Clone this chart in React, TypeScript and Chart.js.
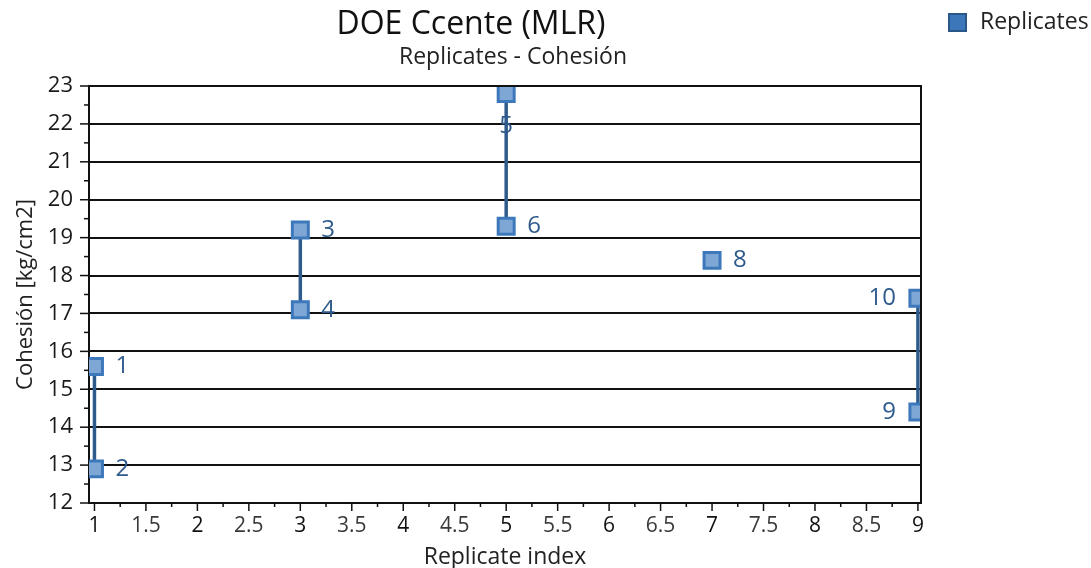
import React, { useEffect, useRef } from "react";
import { Chart, registerables } from "chart.js";

Chart.register(...registerables);

const replicateIds = [1, 2, 3, 4, 5, 6, 8, 9, 10];
const replicateIndex = [1, 1, 3, 3, 5, 5, 7, 9, 9];
const cohesion = [15.6, 12.9, 19.2, 17.1, 22.8, 19.3, 18.4, 14.4, 17.4];
const labelSide = ["right", "right", "right", "right", "below", "right", "right", "left", "left"];

const xTickStart = 1;
const xTickEnd = 9;
const xTickStep = 0.25;

const TITLE = "DOE Ccente (MLR)";
const SUBTITLE = "Replicates - Cohesión";
const SERIES_NAME = "Replicates";
const X_TITLE = "Replicate index";
const Y_TITLE = "Cohesión [kg/cm2]";

const FONT = "'Open Sans', 'Noto Sans', sans-serif";
const LABEL_COLOR = "#2E5A8C";

const pointData = replicateIndex.map((x, i) => ({ x, y: cohesion[i] }));
const lineData: { x: number; y: number | null }[] = [];
replicateIndex.forEach((x, i) => {
  if (i > 0 && replicateIndex[i - 1] !== x) {
    lineData.push({ x: (replicateIndex[i - 1] + x) / 2, y: null });
  }
  lineData.push({ x, y: cohesion[i] });
});

const isHalf = (v: number) => Math.abs(v * 2 - Math.round(v * 2)) < 1e-6;
const isInt = (v: number) => Math.abs(v - Math.round(v)) < 1e-6;

const decoPlugin = {
  id: "deco",
  afterDraw(chart: any) {
    const { ctx, chartArea } = chart;
    const xs = chart.scales.x;
    const ys = chart.scales.y;
    ctx.save();
    ctx.strokeStyle = "#111";
    ctx.lineWidth = 2;
    ctx.beginPath();
    ctx.moveTo(chartArea.left, chartArea.top);
    ctx.lineTo(chartArea.right, chartArea.top);
    ctx.lineTo(chartArea.right, chartArea.bottom);
    ctx.stroke();
    ctx.lineWidth = 1.5;
    ys.ticks.forEach((t: any) => {
      const y = ys.getPixelForValue(t.value);
      const len = Number.isInteger(t.value) ? 9 : 5;
      ctx.beginPath();
      ctx.moveTo(chartArea.left - len, y);
      ctx.lineTo(chartArea.left, y);
      ctx.stroke();
    });
    xs.ticks.forEach((t: any) => {
      const x = xs.getPixelForValue(t.value);
      const len = isHalf(t.value) ? 8 : 4;
      ctx.beginPath();
      ctx.moveTo(x, chartArea.bottom);
      ctx.lineTo(x, chartArea.bottom + len);
      ctx.stroke();
    });
    const meta = chart.getDatasetMeta(0);
    ctx.font = `24px ${FONT}`;
    ctx.fillStyle = LABEL_COLOR;
    ctx.textBaseline = "middle";
    meta.data.forEach((el: any, i: number) => {
      const side = labelSide[i];
      const txt = String(replicateIds[i]);
      if (side === "right") {
        ctx.textAlign = "left";
        ctx.fillText(txt, el.x + 21, el.y);
      } else if (side === "left") {
        ctx.textAlign = "right";
        ctx.fillText(txt, el.x - 22, el.y);
      } else {
        ctx.textAlign = "center";
        ctx.fillText(txt, el.x, el.y + 33);
      }
    });
    ctx.fillStyle = "#111";
    ctx.textAlign = "center";
    ctx.font = `32px ${FONT}`;
    ctx.fillText(TITLE, 471, 25);
    ctx.font = `23px ${FONT}`;
    ctx.fillStyle = "#222";
    ctx.fillText(SUBTITLE, 513, 57);
    ctx.fillStyle = "#3C77B9";
    ctx.fillRect(949, 14, 17, 17);
    ctx.strokeStyle = "#2A578A";
    ctx.lineWidth = 2;
    ctx.strokeRect(949, 14, 17, 17);
    ctx.fillStyle = "#222";
    ctx.textAlign = "left";
    ctx.font = `23px ${FONT}`;
    ctx.fillText(SERIES_NAME, 980, 22);
    ctx.restore();
  },
};

export default function App() {
  const ref = useRef<HTMLCanvasElement | null>(null);
  useEffect(() => {
    document.body.style.margin = "0";
    if (!ref.current) return;
    const chart = new Chart(ref.current, {
      type: "line",
      data: {
        datasets: [
          {
            label: SERIES_NAME,
            data: pointData,
            showLine: false,
            pointStyle: "rect",
            pointRadius: 11.3,
            pointHoverRadius: 11.3,
            pointBackgroundColor: "#7FA7D6",
            pointBorderColor: "#3D78BA",
            pointBorderWidth: 3,
            borderColor: "#3D78BA",
            backgroundColor: "#7FA7D6",
            order: 0,
            clip: 0,
          } as any,
          {
            label: "pairs",
            data: lineData,
            borderColor: "#2F5B8C",
            borderWidth: 3.5,
            pointRadius: 0,
            spanGaps: false,
            order: 1,
            clip: 0,
          } as any,
        ],
      },
      options: {
        responsive: false,
        animation: false,
        layout: { padding: { top: 86, right: 170, left: 0, bottom: 0 } },
        plugins: {
          legend: { display: false },
          title: { display: false },
          tooltip: { enabled: false },
        },
        events: [],
        scales: {
          x: {
            type: "linear",
            min: 0.947,
            max: 9.03,
            afterBuildTicks: (scale: any) => {
              const ticks: any[] = [];
              for (let v = xTickStart; v <= xTickEnd + 1e-9; v += xTickStep) ticks.push({ value: v });
              scale.ticks = ticks;
            },
            afterFit: (scale: any) => {
              scale.height = 65;
            },
            ticks: {
              autoSkip: false,
              maxRotation: 0,
              padding: 10,
              color: (c: any) => (c.tick && isInt(c.tick.value) ? "#111" : "#3a3a3a"),
              font: { family: FONT, size: 21 },
              callback: (v: any) => (isHalf(v) ? String(Math.round(v * 2) / 2) : ""),
            },
            grid: { drawOnChartArea: false, drawTicks: false, tickLength: 0 },
            border: { display: true, color: "#111", width: 2 },
            title: {
              display: true,
              text: X_TITLE,
              color: "#222",
              font: { family: FONT, size: 23, lineHeight: 1.0 },
              padding: { top: 0, bottom: -1 },
            },
          },
          y: {
            type: "linear",
            min: 12,
            max: 23,
            afterFit: (scale: any) => {
              scale.width = 89;
            },
            ticks: {
              stepSize: 0.5,
              autoSkip: false,
              padding: 16,
              color: "#1a1a1a",
              font: { family: FONT, size: 22 },
              callback: (v: any) => (Number.isInteger(v) ? String(v) : ""),
            },
            grid: {
              drawTicks: false,
              tickLength: 0,
              lineWidth: 2,
              color: (c: any) =>
                c.tick && Number.isInteger(c.tick.value) ? "#111" : "rgba(0,0,0,0)",
            },
            border: { display: true, color: "#111", width: 2 },
            title: {
              display: true,
              text: Y_TITLE,
              color: "#222",
              font: { family: FONT, size: 22 },
              padding: { top: 13, bottom: 0 },
            },
          },
        },
      } as any,
      plugins: [decoPlugin],
    });
    return () => chart.destroy();
  }, []);
  return <canvas ref={ref} width={1091} height={568} style={{ display: "block" }} />;
}
